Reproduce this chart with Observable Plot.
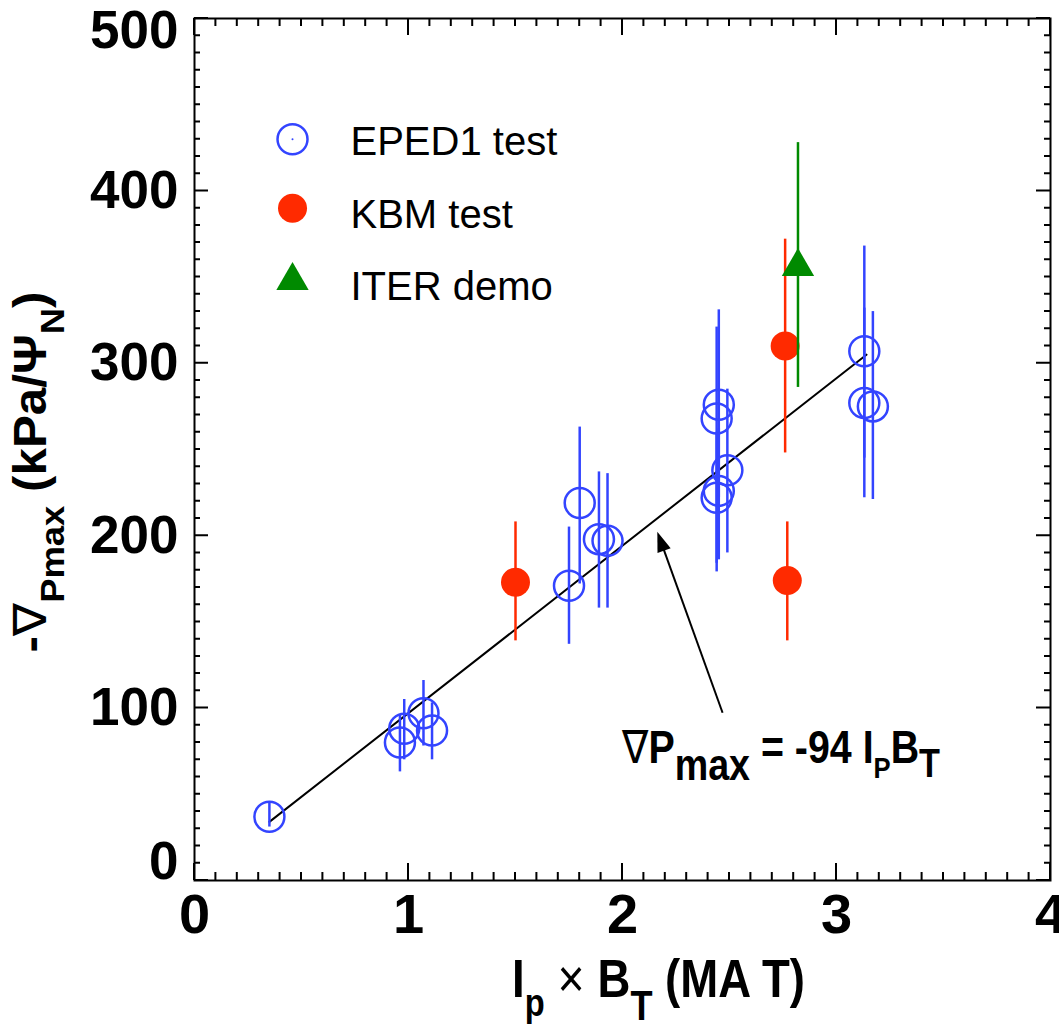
<!DOCTYPE html>
<html><head><meta charset="utf-8">
<script src="https://cdn.jsdelivr.net/npm/d3@7"></script>
<script src="https://cdn.jsdelivr.net/npm/@observablehq/plot@0.6"></script>
<style>body{margin:0;background:#fff;} svg{display:block;}</style>
</head><body><div id="chart"></div>
<script>
// ---- data ----
const epedX  = [0.35, 0.96, 0.98, 1.07, 1.11, 1.75, 1.80, 1.89, 1.93, 2.45, 2.44, 2.49, 2.45, 2.44, 3.13, 3.13, 3.17];
const epedY  = [37, 80, 88, 97, 87, 171, 219, 198, 197, 276, 268, 238, 226, 222, 307, 277, 275];
const epedHi = [45, 96, 105, 116, 103, 205, 263, 237, 236, 331, 321, 285, 262, 260, 368, 332, 330];
const epedLo = [31, 63, 70, 78, 70, 137, 172, 158, 158, 222, 179, 190, 186, 184, 245, 222, 221];

const kbmX  = [1.50, 2.76, 2.77];
const kbmY  = [173, 310, 174];
const kbmHi = [208, 372, 208];
const kbmLo = [139, 248, 139];

const iterX  = [2.82];
const iterY  = [356];
const iterHi = [428];
const iterLo = [286];

const fitX = [0.35, 3.14];
const fitY = [34, 305];

const arrowFrom = [2.47, 97];
const arrowTo   = [2.165, 202];
const annotAt   = [2.0, 68];

const seriesNames = ["EPED1 test", "KBM test", "ITER demo"];
const legendMarkX = 0.458, legendTextX = 0.729;
const legendMarkY = [430, 390, 348];
const legendTextY = [428.5, 386, 344];

const xTickLabels = [0, 1, 2, 3, 4];
const yTickLabels = [0, 100, 200, 300, 400, 500];
const xMinor = d3.range(0, 41).map(i => i / 10);
const yMinor = d3.range(0, 51).map(i => i * 10);

// ---- styles ----
const BLUE = "#3344ff", RED = "#ff2a00", GREEN = "#008a00";
const FONT = "Liberation Sans, Arial, Helvetica, sans-serif";

const rows = (xs, ys, his, los) => xs.map((x, i) => ({x, y: ys[i], hi: his[i], lo: los[i]}));
const eped = rows(epedX, epedY, epedHi, epedLo);
const kbm = rows(kbmX, kbmY, kbmHi, kbmLo);
const iter = rows(iterX, iterY, iterHi, iterLo);
const fit = fitX.map((x, i) => ({x, y: fitY[i]}));

function ticksMark(index, scales, values, dims) {
  const X = scales.x, Y = scales.y;
  const left = dims.marginLeft, right = dims.width - dims.marginRight;
  const top = dims.marginTop, bottom = dims.height - dims.marginBottom;
  const p = d3.path();
  for (const v of xMinor) {
    const l = xTickLabels.includes(v) ? 17 : 8;
    const px = X(v);
    p.moveTo(px, bottom); p.lineTo(px, bottom - l);
    p.moveTo(px, top); p.lineTo(px, top + l);
  }
  for (const v of yMinor) {
    const l = yTickLabels.includes(v) ? 14 : 6;
    const py = Y(v);
    p.moveTo(left, py); p.lineTo(left + l, py);
    p.moveTo(right, py); p.lineTo(right - l, py);
  }
  return d3.create("svg:path").attr("d", p.toString()).attr("stroke", "#000")
    .attr("stroke-width", 2).attr("fill", "none").node();
}

function richText(parts, attrs) {
  const t = d3.create("svg:text").attr("font-family", FONT).attr("font-weight", "bold")
    .attr("fill", "#000").attr("text-anchor", "start");
  for (const [k, v] of Object.entries(attrs)) t.attr(k, v);
  for (const p of parts) {
    const s = t.append("tspan").text(p.t).attr("font-size", p.fs);
    if (p.dy) s.attr("dy", p.dy);
    if (p.fw) s.attr("font-weight", p.fw);
  }
  return t;
}

function yTitle(index, scales, values, dims) {
  return richText([
    {t: "-", fs: 46},
    {t: "\u2207", fs: 46, fw: "normal"},
    {t: "Pmax", fs: 34, dy: 18},
    {t: " (kPa/\u03A8", fs: 46, dy: -18},
    {t: "N", fs: 34, dy: 18},
    {t: ")", fs: 46, dy: -18}
  ], {transform: "translate(46,472) rotate(-90)", "text-anchor": "middle", textLength: 361, lengthAdjust: "spacingAndGlyphs"}).node();
}

function xTitle(index, scales, values, dims) {
  return richText([
    {t: "I", fs: 53},
    {t: "p", fs: 38, dy: 19},
    {t: " \u00D7 ", fs: 54, dy: -19, fw: "normal"},
    {t: "B", fs: 53},
    {t: "T", fs: 42, dy: 23},
    {t: " (MA T)", fs: 53, dy: -23}
  ], {x: 512, y: 997, textLength: 293, lengthAdjust: "spacingAndGlyphs"}).node();
}

function annotation(index, scales, values, dims) {
  const x = scales.x(annotAt[0]), y = scales.y(annotAt[1]);
  return richText([
    {t: "\u2207", fs: 46, fw: "normal"},
    {t: "P", fs: 46},
    {t: "max", fs: 44, dy: 17},
    {t: " = -94 I", fs: 46, dy: -17},
    {t: "P", fs: 30, dy: 15},
    {t: "B", fs: 46, dy: -15},
    {t: "T", fs: 40, dy: 14}
  ], {x, y, textLength: 318, lengthAdjust: "spacingAndGlyphs"}).node();
}

function arrow(index, scales) {
  const tx = scales.x(arrowFrom[0]), ty = scales.y(arrowFrom[1]);
  const hx = scales.x(arrowTo[0]), hy = scales.y(arrowTo[1]);
  const dx = hx - tx, dy = hy - ty, L = Math.hypot(dx, dy);
  const ux = dx / L, uy = dy / L, hl = 20, hw = 7;
  const bx = hx - ux * hl, by = hy - uy * hl;
  const g = d3.create("svg:g");
  g.append("line").attr("x1", tx).attr("y1", ty).attr("x2", bx + ux * 2).attr("y2", by + uy * 2)
    .attr("stroke", "#000").attr("stroke-width", 2);
  g.append("path").attr("d", `M${hx},${hy}L${bx - uy * hw},${by + ux * hw}L${bx + uy * hw},${by - ux * hw}Z`).attr("fill", "#000");
  return g.node();
}

const chart = Plot.plot({
  width: 1059, height: 1025,
  marginLeft: 194, marginRight: 9, marginTop: 18, marginBottom: 145,
  x: {domain: [0, 4], axis: null},
  y: {domain: [0, 500], axis: null},
  style: {background: "#fff", overflow: "visible"},
  marks: [
    Plot.frame({stroke: "#000", strokeWidth: 2}),
    ticksMark,
    Plot.text(xTickLabels, {x: d => d, y: () => 0, text: d => String(d), dy: 13, lineAnchor: "top",
      fontSize: 56, fontWeight: "bold", fontFamily: FONT, fill: "#000", ariaLabel: "xticklabels"}),
    Plot.text(yTickLabels.filter(d => d > 0 && d < 500), {x: () => 0, y: d => d, text: d => String(d), dx: -16,
      textAnchor: "end", fontSize: 53, fontWeight: "bold", fontFamily: FONT, fill: "#000", ariaLabel: "yticklabels"}),
    Plot.text(yTickLabels.filter(d => d === 500), {x: () => 0, y: d => d, text: d => String(d), dx: -16, dy: 13,
      textAnchor: "end", fontSize: 53, fontWeight: "bold", fontFamily: FONT, fill: "#000", ariaLabel: "yticklabels"}),
    Plot.text(yTickLabels.filter(d => d === 0), {x: () => 0, y: d => d, text: d => String(d), dx: -16, dy: -18,
      textAnchor: "end", fontSize: 53, fontWeight: "bold", fontFamily: FONT, fill: "#000", ariaLabel: "yticklabels"}),
    yTitle, xTitle,
    Plot.line(fit, {x: "x", y: "y", stroke: "#000", strokeWidth: 2}),
    Plot.ruleX(eped, {x: "x", y1: "lo", y2: "hi", stroke: BLUE, strokeWidth: 2.5}),
    Plot.dot(eped, {x: "x", y: "y", r: 15, stroke: BLUE, strokeWidth: 2.5, fill: "none"}),
    Plot.ruleX(kbm, {x: "x", y1: "lo", y2: "hi", stroke: RED, strokeWidth: 2.5}),
    Plot.dot(kbm, {x: "x", y: "y", r: 14.5, fill: RED, stroke: "none"}),
    Plot.ruleX(iter, {x: "x", y1: "lo", y2: "hi", stroke: GREEN, strokeWidth: 2.5}),
    Plot.dot(iter, {x: "x", y: "y", r: 12, symbol: "triangle", fill: GREEN, stroke: "none"}),
    arrow, annotation,
    // legend
    Plot.dot([0], {x: () => legendMarkX, y: () => legendMarkY[0], r: 15, stroke: BLUE, strokeWidth: 2.5, fill: "none"}),
    Plot.dot([0], {x: () => legendMarkX, y: () => legendMarkY[0], r: 1, fill: BLUE}),
    Plot.dot([0], {x: () => legendMarkX, y: () => legendMarkY[1], r: 14.5, fill: RED}),
    Plot.dot([0], {x: () => legendMarkX, y: () => legendMarkY[2], r: 12, symbol: "triangle", fill: GREEN}),
    Plot.text(seriesNames, {x: () => legendTextX, y: (d, i) => legendTextY[i], text: d => d, textAnchor: "start",
      fontSize: 40, fontFamily: FONT, fill: "#000", ariaLabel: "legendtext"})
  ]
});

document.getElementById("chart").append(chart);
const svg = d3.select(chart);
function squeeze(sel, k) {
  svg.selectAll(sel).each(function() {
    this.setAttribute("transform", (this.getAttribute("transform") || "") + ` scale(${k},1)`);
  });
}
squeeze('g[aria-label="xticklabels"] text', 0.74);
squeeze('g[aria-label="yticklabels"] text', 0.82);
squeeze('g[aria-label="legendtext"] text', 0.89);
</script></body></html>
